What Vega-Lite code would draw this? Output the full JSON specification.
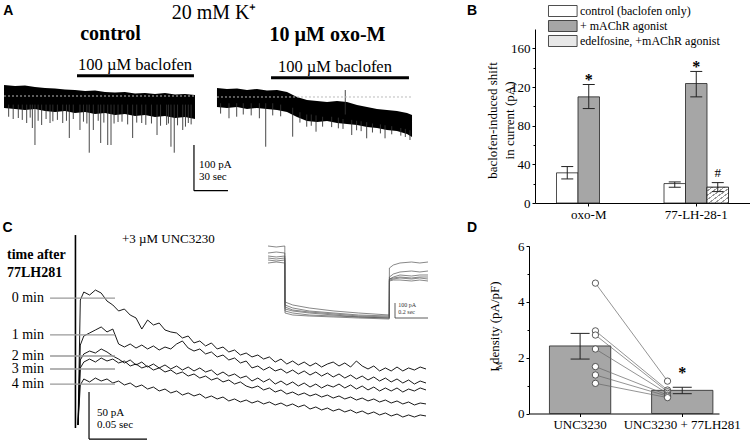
{
"$schema": "https://vega.github.io/schema/vega-lite/v6.json",
"width": 750, "height": 441,
"autosize": {"type": "none"},
"padding": 0,
"background": "white",
"config": {
 "view": {"stroke": null},
 "font": "Liberation Serif",
 "text": {"font": "Liberation Serif", "color": "black"},
 "axis": {"labelFont": "Liberation Serif", "titleFont": "Liberation Serif", "labelFontSize": 13, "titleFontSize": 13, "titleFontWeight": "normal", "labelColor": "black", "titleColor": "black", "domainColor": "black", "tickColor": "black", "grid": false, "tickSize": 3, "labelPadding": 2}
},
"datasets": {
 "aEnv": [
  {"rec":"control","t":0.9,"hi":255.6,"lo":204.4},{"rec":"control","t":10.6,"hi":253.3,"lo":202.2},{"rec":"control","t":19.4,"hi":254.4,"lo":200},{"rec":"control","t":28.2,"hi":251.1,"lo":202.2},{"rec":"control","t":37.1,"hi":248.9,"lo":197.8},{"rec":"control","t":45.9,"hi":247.8,"lo":195.6},{"rec":"control","t":54.7,"hi":245.6,"lo":197.8},{"rec":"control","t":63.5,"hi":244.4,"lo":193.3},{"rec":"control","t":72.4,"hi":242.2,"lo":195.6},{"rec":"control","t":81.2,"hi":243.3,"lo":191.1},{"rec":"control","t":90,"hi":240,"lo":193.3},{"rec":"control","t":98.8,"hi":238.9,"lo":188.9},{"rec":"control","t":107.6,"hi":240,"lo":191.1},{"rec":"control","t":116.5,"hi":236.7,"lo":186.7},{"rec":"control","t":125.3,"hi":237.8,"lo":188.9},{"rec":"control","t":134.1,"hi":235.6,"lo":184.4},{"rec":"control","t":142.9,"hi":237.8,"lo":186.7},{"rec":"control","t":151.8,"hi":234.4,"lo":182.2},{"rec":"control","t":160.6,"hi":235.6,"lo":184.4},{"rec":"control","t":169.4,"hi":233.3,"lo":180},
  {"rec":"oxo","t":188.8,"hi":248.9,"lo":206.7},{"rec":"oxo","t":197.6,"hi":246.7,"lo":204.4},{"rec":"oxo","t":206.5,"hi":247.8,"lo":206.7},{"rec":"oxo","t":215.3,"hi":244.4,"lo":202.2},{"rec":"oxo","t":224.1,"hi":246.7,"lo":204.4},{"rec":"oxo","t":232.9,"hi":243.3,"lo":202.2},{"rec":"oxo","t":241.8,"hi":244.4,"lo":200},{"rec":"oxo","t":250.6,"hi":240,"lo":195.6},{"rec":"oxo","t":259.4,"hi":228.9,"lo":184.4},{"rec":"oxo","t":268.2,"hi":222.2,"lo":175.6},{"rec":"oxo","t":277.1,"hi":220,"lo":173.3},{"rec":"oxo","t":285.9,"hi":217.8,"lo":175.6},{"rec":"oxo","t":294.7,"hi":220,"lo":171.1},{"rec":"oxo","t":303.5,"hi":217.8,"lo":168.9},{"rec":"oxo","t":312.4,"hi":211.1,"lo":166.7},{"rec":"oxo","t":321.2,"hi":206.7,"lo":162.2},{"rec":"oxo","t":330,"hi":202.2,"lo":160},{"rec":"oxo","t":338.8,"hi":200,"lo":155.6},{"rec":"oxo","t":347.6,"hi":197.8,"lo":153.3},{"rec":"oxo","t":356.5,"hi":193.3,"lo":146.7},{"rec":"oxo","t":360.9,"hi":188.9,"lo":140}
 ],
 "aSpk": [
  {"t":5,"base":212,"tip":185},{"t":9,"base":212,"tip":180},{"t":13.5,"base":212,"tip":182.2},{"t":17,"base":212,"tip":178},{"t":20.9,"base":212,"tip":171.1},{"t":24,"base":212,"tip":183},{"t":25.9,"base":212,"tip":160},{"t":28.2,"base":212,"tip":122.2},{"t":31,"base":212,"tip":176},{"t":34.1,"base":212,"tip":166.7},{"t":38,"base":212,"tip":180},{"t":41.5,"base":212,"tip":171.1},{"t":44,"base":212,"tip":175},{"t":48,"base":212,"tip":178},{"t":52.7,"base":212,"tip":171.1},{"t":56,"base":212,"tip":176},{"t":58.5,"base":212,"tip":137.8},{"t":62,"base":212,"tip":180},{"t":67.9,"base":212,"tip":155.6},{"t":71,"base":212,"tip":174},{"t":74,"base":212,"tip":170},{"t":76.1,"base":212,"tip":105.1},{"t":79.7,"base":212,"tip":155.6},{"t":84,"base":212,"tip":176},{"t":86.2,"base":212,"tip":126.7},{"t":89,"base":212,"tip":172},{"t":92.4,"base":212,"tip":122.2},{"t":95.3,"base":212,"tip":122.2},{"t":98,"base":212,"tip":170},{"t":101.5,"base":212,"tip":173.3},{"t":105,"base":212,"tip":174},{"t":110,"base":212,"tip":168},{"t":114.4,"base":212,"tip":137.8},{"t":118,"base":212,"tip":172},{"t":122.4,"base":212,"tip":171.1},{"t":126,"base":212,"tip":167},{"t":131,"base":212,"tip":170},{"t":135.9,"base":212,"tip":144.4},{"t":139,"base":212,"tip":165},{"t":144.4,"base":212,"tip":166.7},{"t":146,"base":212,"tip":170},{"t":148.2,"base":212,"tip":118.4},{"t":151.1,"base":212,"tip":105.1},{"t":154,"base":212,"tip":166},{"t":158.6,"base":212,"tip":155.6},{"t":161,"base":212,"tip":163},{"t":163.5,"base":212,"tip":171.1},{"t":166,"base":212,"tip":168},
  {"t":192,"base":215,"tip":192},{"t":199.4,"base":215,"tip":181.6},{"t":206.2,"base":215,"tip":185.1},{"t":212,"base":215,"tip":190},{"t":219,"base":215,"tip":188},{"t":226.2,"base":215,"tip":181.6},{"t":231.8,"base":215,"tip":118.4},{"t":238,"base":215,"tip":188},{"t":245,"base":212,"tip":186},{"t":255.6,"base":205,"tip":140.7},{"t":262,"base":195,"tip":172},{"t":268,"base":190,"tip":162.9},{"t":272,"base":190,"tip":165},{"t":276.2,"base":188,"tip":151.8},{"t":282,"base":185,"tip":163},{"t":290,"base":185,"tip":162},{"t":295.9,"base":183,"tip":159.3},{"t":300,"base":180,"tip":158},{"t":302,"base":190,"tip":244.4},{"t":307.7,"base":178,"tip":144.4},{"t":312,"base":176,"tip":155},{"t":316,"base":175,"tip":153},{"t":320.9,"base":173,"tip":137.1},{"t":326,"base":170,"tip":150},{"t":333,"base":168,"tip":148},{"t":337.1,"base":166,"tip":137.1},{"t":343,"base":164,"tip":146},{"t":351,"base":160,"tip":143},{"t":355,"base":158,"tip":140},{"t":359.1,"base":155,"tip":133.3}
 ],
 "aRef": [{"t0":0.9,"t1":169.4,"i":231.1},{"t0":188.8,"t1":360.9,"i":228.9}],
 "aBac": [{"t0":65.3,"t1":168.5,"i":276.2},{"t0":236.5,"t1":358.2,"i":271.8}],
 "aBacTxt": [{"text":"100 µM baclofen","t":116.5,"i":288.9},{"text":"100 µM baclofen","t":292.9,"i":284.4}],
 "aTitle": [{"text":"20 mM K⁺","t":186.2,"i":402.2}],
 "aCond": [{"text":"control","t":94.9,"i":355.6},{"text":"10 µM oxo-M","t":286.3,"i":353.3}],
 "aScale": [{"t0":168.5,"t1":168.5,"i0":122.2,"i1":20.7},{"t0":168.5,"t1":198.5,"i0":20.7,"i1":20.7}],
 "aScaleTxt": [{"text":"100 pA","t":172.9,"i":77.8},{"text":"30 sec","t":172.9,"i":51.1}],
 "aLetters": [{"text":"A","t":4.7,"i":411.1},{"text":"B","t":413.8,"i":411.1}],
 "bBar": [
  {"drug":"oxo-M","cond":"control (baclofen only)","mean":31.2,"lo":24.9,"hi":37.7},
  {"drug":"oxo-M","cond":"+ mAChR agonist","mean":109.8,"lo":97.7,"hi":122.6,"mark":"*"},
  {"drug":"77-LH-28-1","cond":"control (baclofen only)","mean":20.1,"lo":16.3,"hi":21.8},
  {"drug":"77-LH-28-1","cond":"+ mAChR agonist","mean":123.6,"lo":109.8,"hi":136.1,"mark":"*"},
  {"drug":"77-LH-28-1","cond":"edelfosine, +mAChR agonist","mean":16.3,"lo":11.8,"hi":21.1,"mark":"#"}
 ],
 "cTr": [
  {"t":0,"a":17.0,"b":17.0,"c":17.0,"d":17.0,"e":17.0},
  {"t":2,"a":150.0,"b":102.1,"c":86.2,"d":77.7,"e":59.6},
  {"t":5,"a":158.5,"b":111.7,"c":92.6,"d":84.0,"e":66.0},
  {"t":10,"a":155.3,"b":114.9,"c":95.7,"d":87.2,"e":62.8},
  {"t":15,"a":160.6,"b":118.1,"c":93.6,"d":84.0,"e":67.0},
  {"t":20,"a":157.4,"b":121.3,"c":97.9,"d":88.3,"e":63.8},
  {"t":25,"a":148.9,"b":116.0,"c":94.7,"d":85.1,"e":66.0},
  {"t":30,"a":144.7,"b":119.1,"c":90.4,"d":87.2,"e":61.7},
  {"t":35,"a":138.3,"b":103.2,"c":87.2,"d":83.0,"e":63.8},
  {"t":40,"a":140.4,"b":100.0,"c":83.0,"d":85.1,"e":59.6},
  {"t":45,"a":134.0,"b":103.2,"c":86.2,"d":79.8,"e":61.7},
  {"t":50,"a":130.9,"b":98.9,"c":80.9,"d":81.9,"e":57.4},
  {"t":55,"a":119.1,"b":102.1,"c":84.0,"d":77.7,"e":59.6},
  {"t":60,"a":128.7,"b":97.9,"c":78.7,"d":79.8,"e":55.3},
  {"t":65,"a":123.4,"b":101.1,"c":81.9,"d":75.5,"e":57.4},
  {"t":70,"a":125.5,"b":96.8,"c":77.7,"d":77.7,"e":53.2},
  {"t":75,"a":118.1,"b":100.0,"c":80.9,"d":73.4,"e":55.3},
  {"t":80,"a":116.0,"b":97.9,"c":76.6,"d":75.5,"e":51.1},
  {"t":85,"a":114.9,"b":103.2,"c":79.8,"d":71.3,"e":53.2},
  {"t":90,"a":109.6,"b":106.4,"c":75.5,"d":73.4,"e":48.9},
  {"t":95,"a":111.7,"b":98.9,"c":78.7,"d":69.1,"e":51.1},
  {"t":100,"a":104.3,"b":95.7,"c":74.5,"d":71.3,"e":47.9},
  {"t":105,"a":106.4,"b":97.9,"c":77.7,"d":67.0,"e":50.0},
  {"t":110,"a":101.1,"b":92.6,"c":73.4,"d":69.1,"e":45.7},
  {"t":115,"a":104.3,"b":94.7,"c":75.5,"d":64.9,"e":47.9},
  {"t":120,"a":97.9,"b":89.4,"c":70.2,"d":67.0,"e":44.7},
  {"t":125,"a":100.0,"b":91.5,"c":73.4,"d":62.8,"e":46.8},
  {"t":130,"a":94.7,"b":86.2,"c":69.1,"d":64.9,"e":42.6},
  {"t":135,"a":96.8,"b":88.3,"c":71.3,"d":60.6,"e":44.7},
  {"t":140,"a":91.5,"b":83.0,"c":67.0,"d":62.8,"e":41.5},
  {"t":145,"a":93.6,"b":85.1,"c":69.1,"d":58.5,"e":43.6},
  {"t":150,"a":89.4,"b":77.7,"c":63.8,"d":56.4,"e":40.4},
  {"t":155,"a":91.5,"b":79.8,"c":67.0,"d":58.5,"e":42.6},
  {"t":160,"a":87.2,"b":75.5,"c":62.8,"d":54.3,"e":39.4},
  {"t":165,"a":89.4,"b":78.7,"c":66.0,"d":56.4,"e":41.5},
  {"t":170,"a":84.0,"b":74.5,"c":60.6,"d":52.1,"e":38.3},
  {"t":175,"a":87.2,"b":76.6,"c":63.8,"d":54.3,"e":40.4},
  {"t":180,"a":81.9,"b":72.3,"c":59.6,"d":50.0,"e":37.2},
  {"t":185,"a":85.1,"b":75.5,"c":62.8,"d":52.1,"e":39.4},
  {"t":190,"a":80.9,"b":71.3,"c":58.5,"d":48.9,"e":36.2},
  {"t":195,"a":84.0,"b":74.5,"c":61.7,"d":51.1,"e":38.3},
  {"t":200,"a":79.8,"b":70.2,"c":57.4,"d":47.9,"e":34.0},
  {"t":205,"a":83.0,"b":73.4,"c":60.6,"d":50.0,"e":36.2},
  {"t":210,"a":78.7,"b":69.1,"c":56.4,"d":46.8,"e":33.0},
  {"t":215,"a":81.9,"b":72.3,"c":59.6,"d":48.9,"e":35.1},
  {"t":220,"a":84.0,"b":68.1,"c":57.4,"d":45.7,"e":31.9},
  {"t":225,"a":79.8,"b":71.3,"c":60.6,"d":47.9,"e":34.0},
  {"t":230,"a":83.0,"b":67.0,"c":56.4,"d":44.7,"e":30.9},
  {"t":235,"a":78.7,"b":70.2,"c":59.6,"d":46.8,"e":33.0},
  {"t":240,"a":85.1,"b":66.0,"c":55.3,"d":43.6,"e":29.8},
  {"t":245,"a":79.8,"b":69.1,"c":58.5,"d":45.7,"e":31.9},
  {"t":250,"a":76.6,"b":64.9,"c":54.3,"d":42.6,"e":28.7},
  {"t":255,"a":79.8,"b":68.1,"c":57.4,"d":44.7,"e":30.9},
  {"t":260,"a":74.5,"b":63.8,"c":53.2,"d":41.5,"e":27.7},
  {"t":265,"a":77.7,"b":67.0,"c":56.4,"d":43.6,"e":29.8},
  {"t":270,"a":74.5,"b":62.8,"c":53.2,"d":40.4,"e":26.6},
  {"t":275,"a":78.7,"b":66.0,"c":56.4,"d":42.6,"e":28.7},
  {"t":280,"a":74.5,"b":61.7,"c":52.1,"d":39.4,"e":25.5},
  {"t":285,"a":77.7,"b":64.9,"c":55.3,"d":41.5,"e":27.7},
  {"t":290,"a":75.5,"b":60.6,"c":53.2,"d":38.3,"e":25.5},
  {"t":295,"a":78.7,"b":63.8,"c":56.4,"d":40.4,"e":27.7},
  {"t":300,"a":76.6,"b":61.7,"c":54.3,"d":39.4,"e":26.6}
 ],
 "cTransient": [{"t":-2.2,"top":219.1,"bottom":13.8}],
 "cLab": [{"label":"0 min","i":152.1},{"label":"1 min","i":112.8},{"label":"2 min","i":90.4},{"label":"3 min","i":76.6},{"label":"4 min","i":60.6}],
 "cBold": [{"text":"time after","t":-61.2,"i":197.9},{"text":"77LH281","t":-61.2,"i":178.7}],
 "cNote": [{"text":"+3 µM UNC3230","t":77.9,"i":214.9}],
 "cScale": [{"t0":9.5,"t1":9.5,"i0":52.1,"i1":2.1},{"t0":9.5,"t1":59.5,"i0":2.1,"i1":2.1}],
 "cScaleTxt": [{"text":"50 pA","t":16.4,"i":29.8},{"text":"0.05 sec","t":16.4,"i":17.0}],
 "cLetters": [{"text":"C","t":-60.8,"i":222.3},{"text":"D","t":339.7,"i":222.3}],
 "cSub": [{"text":"M","t":362.9,"i":80}],
 "inTr": [
  {"tr":1,"t":0,"i":560},{"tr":1,"t":50,"i":553.3},{"tr":1,"t":102,"i":560},{"tr":1,"t":103,"i":186.7},{"tr":1,"t":150,"i":166.7},{"tr":1,"t":250,"i":146.7},{"tr":1,"t":400,"i":126.7},{"tr":1,"t":550,"i":113.3},{"tr":1,"t":735,"i":100},{"tr":1,"t":736,"i":413.3},{"tr":1,"t":760,"i":433.3},{"tr":1,"t":800,"i":446.7},{"tr":1,"t":870,"i":453.3},{"tr":1,"t":920,"i":446.7},{"tr":1,"t":970,"i":453.3},
  {"tr":2,"t":0,"i":513.3},{"tr":2,"t":50,"i":520},{"tr":2,"t":102,"i":513.3},{"tr":2,"t":103,"i":166.7},{"tr":2,"t":150,"i":146.7},{"tr":2,"t":250,"i":126.7},{"tr":2,"t":400,"i":113.3},{"tr":2,"t":550,"i":100},{"tr":2,"t":735,"i":93.3},{"tr":2,"t":736,"i":353.3},{"tr":2,"t":760,"i":373.3},{"tr":2,"t":800,"i":386.7},{"tr":2,"t":870,"i":393.3},{"tr":2,"t":920,"i":386.7},{"tr":2,"t":970,"i":393.3},
  {"tr":3,"t":0,"i":493.3},{"tr":3,"t":50,"i":486.7},{"tr":3,"t":102,"i":493.3},{"tr":3,"t":103,"i":153.3},{"tr":3,"t":150,"i":133.3},{"tr":3,"t":250,"i":120},{"tr":3,"t":400,"i":106.7},{"tr":3,"t":550,"i":93.3},{"tr":3,"t":735,"i":86.7},{"tr":3,"t":736,"i":340},{"tr":3,"t":760,"i":353.3},{"tr":3,"t":800,"i":366.7},{"tr":3,"t":870,"i":360},{"tr":3,"t":920,"i":366.7},{"tr":3,"t":970,"i":366.7},
  {"tr":4,"t":0,"i":480},{"tr":4,"t":50,"i":473.3},{"tr":4,"t":102,"i":480},{"tr":4,"t":103,"i":140},{"tr":4,"t":150,"i":126.7},{"tr":4,"t":250,"i":113.3},{"tr":4,"t":400,"i":100},{"tr":4,"t":550,"i":86.7},{"tr":4,"t":735,"i":80},{"tr":4,"t":736,"i":340},{"tr":4,"t":760,"i":346.7},{"tr":4,"t":800,"i":353.3},{"tr":4,"t":870,"i":346.7},{"tr":4,"t":920,"i":353.3},{"tr":4,"t":970,"i":353.3},
  {"tr":5,"t":0,"i":466.7},{"tr":5,"t":50,"i":460},{"tr":5,"t":102,"i":466.7},{"tr":5,"t":103,"i":126.7},{"tr":5,"t":150,"i":113.3},{"tr":5,"t":250,"i":100},{"tr":5,"t":400,"i":93.3},{"tr":5,"t":550,"i":86.7},{"tr":5,"t":735,"i":80},{"tr":5,"t":736,"i":333.3},{"tr":5,"t":760,"i":340},{"tr":5,"t":800,"i":346.7},{"tr":5,"t":870,"i":340},{"tr":5,"t":920,"i":346.7},{"tr":5,"t":970,"i":340},
  {"tr":6,"t":0,"i":446.7},{"tr":6,"t":50,"i":453.3},{"tr":6,"t":102,"i":446.7},{"tr":6,"t":103,"i":113.3},{"tr":6,"t":150,"i":100},{"tr":6,"t":250,"i":93.3},{"tr":6,"t":400,"i":86.7},{"tr":6,"t":550,"i":80},{"tr":6,"t":735,"i":73.3},{"tr":6,"t":736,"i":326.7},{"tr":6,"t":760,"i":333.3},{"tr":6,"t":800,"i":333.3},{"tr":6,"t":870,"i":326.7},{"tr":6,"t":920,"i":333.3},{"tr":6,"t":970,"i":326.7}
 ],
 "inScale": [{"t0":770,"t1":770,"i0":80,"i1":180},{"t0":770,"t1":970,"i0":80,"i1":80}],
 "inScaleTxt": [{"text":"100 pA","t":790,"i":166.7},{"text":"0.2 sec","t":790,"i":118}],
 "dBar": [
  {"cond":"UNC3230","mean":2.42,"lo":1.95,"hi":2.87},
  {"cond":"UNC3230 + 77LH281","mean":0.83,"lo":0.71,"hi":0.94,"mark":"*"}
 ],
 "dCell": [
  {"cell":1,"unc":4.67,"lh":1.16},{"cell":2,"unc":2.96,"lh":0.84},{"cell":3,"unc":2.81,"lh":0.78},{"cell":4,"unc":2.31,"lh":0.72},{"cell":5,"unc":1.68,"lh":0.66},{"cell":6,"unc":1.38,"lh":0.62},{"cell":7,"unc":1.08,"lh":0.57}
 ]
},
"layer": [
 {
  "layer": [
   {"data": {"name": "aEnv"}, "mark": {"type": "area", "color": "black"},
    "encoding": {
     "x": {"field": "t", "type": "quantitative", "scale": {"domain": [0, 375], "range": [3, 428], "nice": false, "zero": false}, "axis": null},
     "y": {"field": "hi", "type": "quantitative", "scale": {"domain": [0, 400], "range": [200, 20], "nice": false, "zero": false}, "axis": null},
     "y2": {"field": "lo"},
     "detail": {"field": "rec"}}},
   {"data": {"name": "aSpk"}, "mark": {"type": "rule", "color": "#333", "strokeWidth": 0.9},
    "encoding": {"x": {"field": "t", "type": "quantitative"}, "y": {"field": "base", "type": "quantitative"}, "y2": {"field": "tip"}}},
   {"data": {"name": "aRef"}, "mark": {"type": "rule", "color": "#bbbbbb", "strokeDash": [2, 2], "strokeWidth": 1},
    "encoding": {"x": {"field": "t0", "type": "quantitative"}, "x2": {"field": "t1"}, "y": {"field": "i", "type": "quantitative"}}},
   {"data": {"name": "aBac"}, "mark": {"type": "rule", "color": "black", "strokeWidth": 3},
    "encoding": {"x": {"field": "t0", "type": "quantitative"}, "x2": {"field": "t1"}, "y": {"field": "i", "type": "quantitative"}}},
   {"data": {"name": "aScale"}, "mark": {"type": "rule", "color": "black", "strokeWidth": 1.2},
    "encoding": {"x": {"field": "t0", "type": "quantitative"}, "x2": {"field": "t1"}, "y": {"field": "i0", "type": "quantitative"}, "y2": {"field": "i1"}}},
   {"data": {"name": "aBacTxt"}, "mark": {"type": "text", "fontSize": 16.5, "align": "center", "baseline": "alphabetic"},
    "encoding": {"x": {"field": "t", "type": "quantitative"}, "y": {"field": "i", "type": "quantitative"}, "text": {"field": "text"}}},
   {"data": {"name": "aTitle"}, "mark": {"type": "text", "fontSize": 20, "align": "center", "baseline": "alphabetic"},
    "encoding": {"x": {"field": "t", "type": "quantitative"}, "y": {"field": "i", "type": "quantitative"}, "text": {"field": "text"}}},
   {"data": {"name": "aCond"}, "mark": {"type": "text", "fontSize": 20, "fontWeight": "bold", "align": "center", "baseline": "alphabetic"},
    "encoding": {"x": {"field": "t", "type": "quantitative"}, "y": {"field": "i", "type": "quantitative"}, "text": {"field": "text"}}},
   {"data": {"name": "aScaleTxt"}, "mark": {"type": "text", "fontSize": 11, "align": "left", "baseline": "middle"},
    "encoding": {"x": {"field": "t", "type": "quantitative"}, "y": {"field": "i", "type": "quantitative"}, "text": {"field": "text"}}},
   {"data": {"name": "aLetters"}, "mark": {"type": "text", "font": "Liberation Sans", "fontSize": 14, "fontWeight": "bold", "align": "center", "baseline": "alphabetic"},
    "encoding": {"x": {"field": "t", "type": "quantitative"}, "y": {"field": "i", "type": "quantitative"}, "text": {"field": "text"}}}
  ]
 },
 {
  "data": {"name": "bBar"},
  "encoding": {
   "x": {"field": "drug", "type": "nominal", "scale": {"domain": ["oxo-M", "77-LH-28-1"], "range": [535, 750], "paddingInner": 0.4, "paddingOuter": 0.2},
         "axis": {"orient": "bottom", "title": null, "labelAngle": 0, "offset": -238, "labelFontSize": 13, "labelPadding": 2}},
   "xOffset": {"field": "cond", "type": "nominal", "scale": {"domain": ["control (baclofen only)", "+ mAChR agonist", "edelfosine, +mAChR agonist"], "paddingInner": 0, "paddingOuter": 0}}
  },
  "layer": [
   {"mark": {"type": "bar", "stroke": "#222", "strokeWidth": 0.8},
    "encoding": {
     "y": {"field": "mean", "type": "quantitative", "scale": {"domain": [0, 180], "range": [203, 29], "nice": false, "zero": false},
           "axis": {"orient": "left", "title": ["baclofen-induced shift", "in current (pA)"], "values": [0, 40, 80, 120, 160], "offset": -535, "titlePadding": -6, "titleLineHeight": 17, "titleFontSize": 13, "titleY": 120}},
     "fill": {"field": "cond", "type": "nominal", "scale": {"domain": ["control (baclofen only)", "+ mAChR agonist", "edelfosine, +mAChR agonist"], "range": ["white", "#a6a6a6", "#e8e8e8"]},
              "legend": {"title": null, "orient": "none", "legendX": 556.8, "legendY": 5, "symbolType": "M-2.6,-1H2.6V1H-2.6Z", "symbolSize": 121, "symbolStrokeColor": "#222", "symbolStrokeWidth": 0.8, "labelFont": "Liberation Serif", "labelFontSize": 12, "labelColor": "black", "labelOffset": 11.2, "rowPadding": -1, "padding": 0}}
    }},
   {"transform": [{"filter": "datum.mark == '#'"}],
    "mark": {"type": "bar", "stroke": "#222", "strokeWidth": 0.8,
     "fill": {"gradient": "linear", "x1": 0, "y1": 0, "x2": 1, "y2": 1, "stops": [
      {"offset": 0, "color": "white"}, {"offset": 0.1, "color": "white"}, {"offset": 0.1, "color": "#999"}, {"offset": 0.14, "color": "#999"}, {"offset": 0.14, "color": "white"},
      {"offset": 0.24, "color": "white"}, {"offset": 0.24, "color": "#999"}, {"offset": 0.28, "color": "#999"}, {"offset": 0.28, "color": "white"},
      {"offset": 0.38, "color": "white"}, {"offset": 0.38, "color": "#999"}, {"offset": 0.42, "color": "#999"}, {"offset": 0.42, "color": "white"},
      {"offset": 0.52, "color": "white"}, {"offset": 0.52, "color": "#999"}, {"offset": 0.56, "color": "#999"}, {"offset": 0.56, "color": "white"},
      {"offset": 0.66, "color": "white"}, {"offset": 0.66, "color": "#999"}, {"offset": 0.7, "color": "#999"}, {"offset": 0.7, "color": "white"},
      {"offset": 0.8, "color": "white"}, {"offset": 0.8, "color": "#999"}, {"offset": 0.84, "color": "#999"}, {"offset": 0.84, "color": "white"},
      {"offset": 0.94, "color": "white"}, {"offset": 0.94, "color": "#999"}, {"offset": 0.98, "color": "#999"}, {"offset": 0.98, "color": "white"}, {"offset": 1, "color": "white"}]}},
    "encoding": {"y": {"field": "mean", "type": "quantitative", "axis": null}}},
   {"mark": {"type": "rule", "color": "#222", "strokeWidth": 1},
    "encoding": {"y": {"field": "lo", "type": "quantitative", "axis": {"orient": "left", "offset": -535, "values": [20, 60, 100, 140], "labels": false, "domain": false, "tickSize": 2, "title": null}}, "y2": {"field": "hi"}}},
   {"mark": {"type": "tick", "orient": "horizontal", "size": 12, "thickness": 1, "color": "#222", "opacity": 1},
    "encoding": {"y": {"field": "hi", "type": "quantitative", "axis": null}}},
   {"mark": {"type": "tick", "orient": "horizontal", "size": 12, "thickness": 1, "color": "#222", "opacity": 1},
    "encoding": {"y": {"field": "lo", "type": "quantitative", "axis": null}}},
   {"transform": [{"filter": "datum.mark == '*'"}],
    "mark": {"type": "text", "fontSize": 16, "fontWeight": "bold", "baseline": "alphabetic", "dy": 1},
    "encoding": {"y": {"field": "hi", "type": "quantitative", "axis": null}, "text": {"field": "mark"}}},
   {"transform": [{"filter": "datum.mark == '#'"}],
    "mark": {"type": "text", "fontSize": 13, "baseline": "alphabetic", "dy": -6},
    "encoding": {"y": {"field": "hi", "type": "quantitative", "axis": null}, "text": {"field": "mark"}}}
  ],
  "resolve": {"axis": {"y": "independent"}}
 },
 {
  "layer": [
   {"data": {"name": "cTr"}, "transform": [{"fold": ["a", "b", "c", "d", "e"], "as": ["trace", "i"]}],
    "mark": {"type": "line", "color": "black", "strokeWidth": 0.9},
    "encoding": {
     "x": {"field": "t", "type": "quantitative", "scale": {"domain": [-60, 340], "range": [8.4, 472.4], "nice": false, "zero": false}, "axis": null},
     "y": {"field": "i", "type": "quantitative", "scale": {"domain": [0, 200], "range": [441, 253], "nice": false, "zero": false}, "axis": null},
     "detail": {"field": "trace"}}},
   {"data": {"name": "cTransient"}, "mark": {"type": "rule", "color": "black", "strokeWidth": 1.6},
    "encoding": {"x": {"field": "t", "type": "quantitative"}, "y": {"field": "top", "type": "quantitative"}, "y2": {"field": "bottom"}}},
   {"data": {"name": "cLab"}, "mark": {"type": "rule", "color": "#9a9a9a", "strokeWidth": 1.3},
    "encoding": {"x": {"datum": -24.1, "type": "quantitative"}, "x2": {"datum": 31.9}, "y": {"field": "i", "type": "quantitative"}}},
   {"data": {"name": "cLab"}, "mark": {"type": "text", "fontSize": 14, "align": "right", "baseline": "middle"},
    "encoding": {"x": {"datum": -29.3, "type": "quantitative"}, "y": {"field": "i", "type": "quantitative"}, "text": {"field": "label"}}},
   {"data": {"name": "cBold"}, "mark": {"type": "text", "fontSize": 14, "fontWeight": "bold", "align": "left", "baseline": "middle"},
    "encoding": {"x": {"field": "t", "type": "quantitative"}, "y": {"field": "i", "type": "quantitative"}, "text": {"field": "text"}}},
   {"data": {"name": "cNote"}, "mark": {"type": "text", "fontSize": 13, "align": "center", "baseline": "middle"},
    "encoding": {"x": {"field": "t", "type": "quantitative"}, "y": {"field": "i", "type": "quantitative"}, "text": {"field": "text"}}},
   {"data": {"name": "cScale"}, "mark": {"type": "rule", "color": "black", "strokeWidth": 1.2},
    "encoding": {"x": {"field": "t0", "type": "quantitative"}, "x2": {"field": "t1"}, "y": {"field": "i0", "type": "quantitative"}, "y2": {"field": "i1"}}},
   {"data": {"name": "cScaleTxt"}, "mark": {"type": "text", "fontSize": 11, "align": "left", "baseline": "middle"},
    "encoding": {"x": {"field": "t", "type": "quantitative"}, "y": {"field": "i", "type": "quantitative"}, "text": {"field": "text"}}},
   {"data": {"name": "cLetters"}, "mark": {"type": "text", "font": "Liberation Sans", "fontSize": 14, "fontWeight": "bold", "align": "center", "baseline": "alphabetic"},
    "encoding": {"x": {"field": "t", "type": "quantitative"}, "y": {"field": "i", "type": "quantitative"}, "text": {"field": "text"}}},
   {"data": {"name": "cSub"}, "mark": {"type": "text", "fontSize": 9, "angle": 270, "align": "center", "baseline": "middle"},
    "encoding": {"x": {"field": "t", "type": "quantitative"}, "y": {"field": "i", "type": "quantitative"}, "text": {"field": "text"}}}
  ]
 },
 {
  "layer": [
   {"data": {"name": "inTr"}, "mark": {"type": "line", "color": "#555", "strokeWidth": 0.7},
    "encoding": {
     "x": {"field": "t", "type": "quantitative", "scale": {"domain": [0, 970], "range": [268, 428], "nice": false, "zero": false}, "axis": null},
     "y": {"field": "i", "type": "quantitative", "scale": {"domain": [0, 600], "range": [330, 240], "nice": false, "zero": false}, "axis": null},
     "detail": {"field": "tr"}}},
   {"data": {"name": "inScale"}, "mark": {"type": "rule", "color": "#333", "strokeWidth": 0.8},
    "encoding": {"x": {"field": "t0", "type": "quantitative"}, "x2": {"field": "t1"}, "y": {"field": "i0", "type": "quantitative"}, "y2": {"field": "i1"}}},
   {"data": {"name": "inScaleTxt"}, "mark": {"type": "text", "fontSize": 6, "align": "left", "baseline": "middle", "color": "#333"},
    "encoding": {"x": {"field": "t", "type": "quantitative"}, "y": {"field": "i", "type": "quantitative"}, "text": {"field": "text"}}}
  ]
 },
 {
  "layer": [
   {"data": {"name": "dBar"}, "mark": {"type": "bar", "fill": "#a6a6a6", "stroke": "#222", "strokeWidth": 0.8},
    "encoding": {
     "x": {"field": "cond", "type": "nominal", "scale": {"type": "band", "domain": ["UNC3230", "UNC3230 + 77LH281"], "range": [529, 719], "paddingInner": 0.4, "paddingOuter": 0.13, "align": 0.77},
           "axis": {"orient": "bottom", "title": null, "labelAngle": 0, "offset": -27.5, "labelFontSize": 13, "labelPadding": 2}},
     "y": {"field": "mean", "type": "quantitative", "scale": {"domain": [0, 6], "range": [413.5, 246], "nice": false, "zero": false},
           "axis": {"orient": "left", "title": "I   density (pA/pF)", "values": [0, 2, 4, 6], "format": "d", "offset": -529, "titlePadding": 16, "titleY": 326}}}},
   {"data": {"name": "dBar"}, "mark": {"type": "rule", "color": "#222", "strokeWidth": 1},
    "encoding": {"x": {"field": "cond", "type": "nominal"}, "y": {"field": "lo", "type": "quantitative", "axis": {"orient": "left", "offset": -529, "values": [1, 3, 5], "labels": false, "domain": false, "tickSize": 2, "title": null}}, "y2": {"field": "hi"}}},
   {"data": {"name": "dBar"}, "mark": {"type": "tick", "orient": "horizontal", "size": 19, "thickness": 1, "color": "#222", "opacity": 1},
    "encoding": {"x": {"field": "cond", "type": "nominal"}, "y": {"field": "hi", "type": "quantitative", "axis": null}}},
   {"data": {"name": "dBar"}, "mark": {"type": "tick", "orient": "horizontal", "size": 19, "thickness": 1, "color": "#222", "opacity": 1},
    "encoding": {"x": {"field": "cond", "type": "nominal"}, "y": {"field": "lo", "type": "quantitative", "axis": null}}},
   {"data": {"name": "dCell"}, "mark": {"type": "rule", "color": "#666", "strokeWidth": 0.7},
    "encoding": {"x": {"datum": "UNC3230", "type": "nominal", "bandPosition": 0.75}, "x2": {"datum": "UNC3230 + 77LH281", "bandPosition": 0.26}, "y": {"field": "unc", "type": "quantitative", "axis": null}, "y2": {"field": "lh"}}},
   {"data": {"name": "dCell"}, "mark": {"type": "point", "shape": "circle", "filled": true, "fill": "white", "stroke": "#333", "strokeWidth": 0.8, "size": 40, "opacity": 1},
    "encoding": {"x": {"datum": "UNC3230", "type": "nominal", "bandPosition": 0.75}, "y": {"field": "unc", "type": "quantitative", "axis": null}}},
   {"data": {"name": "dCell"}, "mark": {"type": "point", "shape": "circle", "filled": true, "fill": "white", "stroke": "#333", "strokeWidth": 0.8, "size": 40, "opacity": 1},
    "encoding": {"x": {"datum": "UNC3230 + 77LH281", "type": "nominal", "bandPosition": 0.26}, "y": {"field": "lh", "type": "quantitative", "axis": null}}},
   {"data": {"name": "dBar"}, "transform": [{"filter": "datum.mark == '*'"}],
    "mark": {"type": "text", "fontSize": 16, "fontWeight": "bold", "baseline": "alphabetic", "dy": -9},
    "encoding": {"x": {"field": "cond", "type": "nominal"}, "y": {"field": "hi", "type": "quantitative", "axis": null}, "text": {"field": "mark"}}}
  ],
  "resolve": {"axis": {"y": "independent"}}
 }
],
"resolve": {"scale": {"x": "independent", "y": "independent", "fill": "independent", "xOffset": "independent"}}
}
